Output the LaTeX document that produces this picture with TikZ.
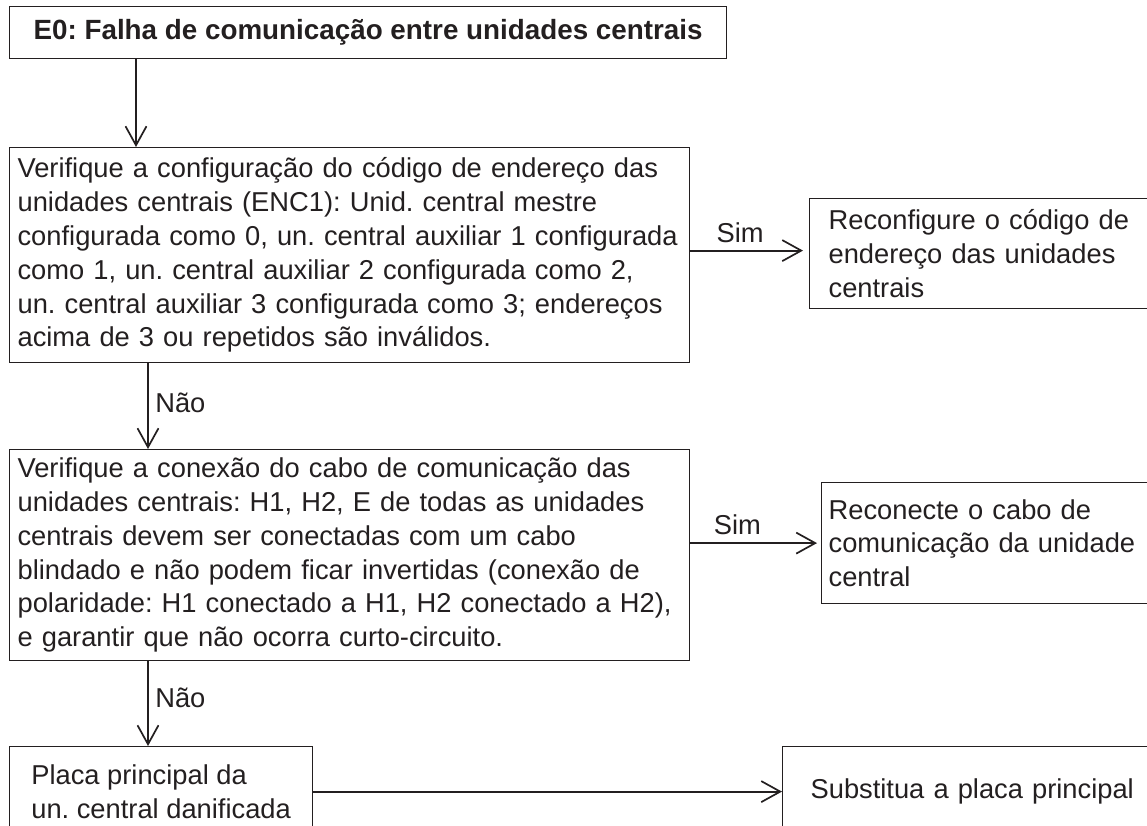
\documentclass[tikz,border=0pt]{standalone}
\usepackage{fontspec}
\setmainfont{Liberation Sans}
\usetikzlibrary{arrows.meta}
\definecolor{ink}{RGB}{35,31,32}
\frenchspacing

\begin{document}
\begin{tikzpicture}[x=1pt,y=-1pt,
    box/.style={draw=ink,line width=1.2pt,text=ink,inner ysep=0pt,anchor=north west,align=left,
        font=\fontsize{27.3}{33.8}\selectfont},
    arr/.style={draw=ink,line width=2pt,-{Straight Barb[length=19pt,width=21pt,line width=1.7pt]}},
    lbl/.style={text=ink,font=\fontsize{27.3}{32}\selectfont}]
    \clip (0,0) rectangle (1147,826);
    %
    \node[box,align=center,inner xsep=0pt,minimum width=717,minimum height=52,
        font=\fontsize{27.8}{32}\selectfont\bfseries] (e0) at (9,6)
        {E0: Falha de comunicação entre unidades centrais};
    \node[box,inner xsep=8pt,text width=664,minimum height=215] (chk1) at (9,147)
        {\mbox{Verifique a configuração do código de endereço das}\\
         \mbox{unidades centrais (ENC1): Unid. central mestre}\\
         \mbox{configurada como 0, un. central auxiliar 1 configurada}\\
         \mbox{como 1, un. central auxiliar 2 configurada como 2,}\\
         \mbox{un. central auxiliar 3 configurada como 3; endereços}\\
         \mbox{acima de 3 ou repetidos são inválidos.}};
    \node[box,inner xsep=8pt,text width=664,minimum height=211] (chk2) at (9,449)
        {\mbox{Verifique a conexão do cabo de comunicação das}\\
         \mbox{unidades centrais: H1, H2, E de todas as unidades}\\
         \mbox{centrais devem ser conectadas com um cabo}\\
         \mbox{blindado e não podem ficar invertidas (conexão de}\\
         \mbox{polaridade: H1 conectado a H1, H2 conectado a H2),}\\
         \mbox{e garantir que não ocorra curto-circuito.}};
    \node[box,inner xsep=0pt,minimum width=303,minimum height=90] (placa) at (9,746)
        {Placa principal da\\un. central danificada};
    %
    \node[box,inner xsep=19pt,text width=400,minimum height=110] (reconf) at (809,198)
        {Reconfigure o código de\\endereço das unidades\\centrais};
    \node[box,inner xsep=7pt,text width=400,minimum height=121] (recon) at (821,482)
        {Reconecte o cabo de\\comunicação da unidade\\central};
    \node[box,inner xsep=28pt,text width=400,minimum height=90] (subst) at (782,746)
        {Substitua a placa principal};
    %
    \draw[arr] ([xshift=127pt]e0.south west) -- ([xshift=127pt]chk1.north west);
    \draw[arr] ([xshift=139pt]chk1.south west) -- node[lbl,right=3pt,pos=0.46]{Não} ([xshift=139pt]chk2.north west);
    \draw[arr] ([xshift=139pt]chk2.south west) -- node[lbl,right=3pt,pos=0.43]{Não} ([xshift=139pt]placa.north west);
    %
    \draw[arr,shorten >=6pt] ([yshift=3pt]chk1.east |- reconf.west) -- node[lbl,above=4pt,pos=0.42]{Sim} ([yshift=3pt]reconf.west);
    \draw[arr,shorten >=4pt] (chk2.east |- recon.west) -- node[lbl,above=4pt,pos=0.36]{Sim} (recon.west);
    \draw[arr] (placa.east) -- (subst.west);
    %
\end{tikzpicture}
\end{document}
